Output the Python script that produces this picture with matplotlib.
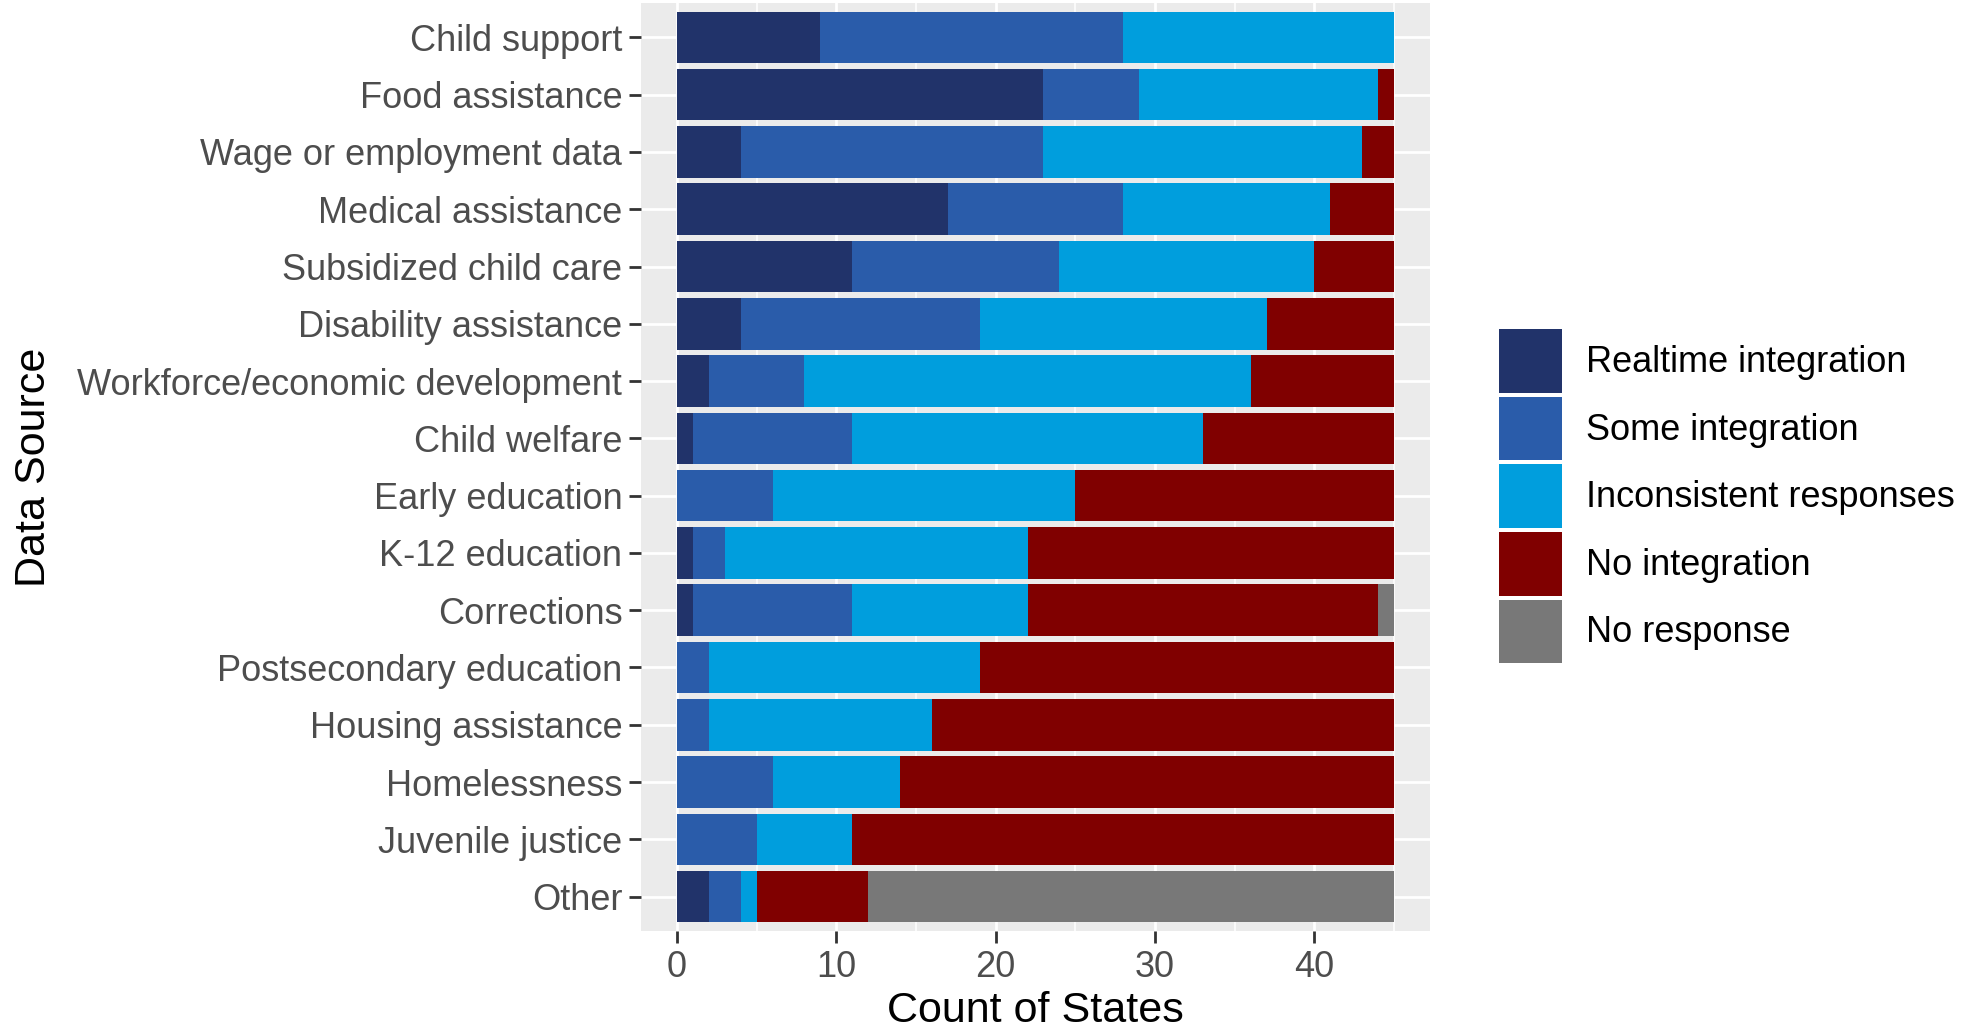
import matplotlib
matplotlib.use("Agg")
import matplotlib.pyplot as plt
import numpy as np
from matplotlib.patches import Patch

plt.rcParams["font.family"] = ["Liberation Sans", "DejaVu Sans"]

# data, top row first
sources = ["Child support", "Food assistance", "Wage or employment data",
           "Medical assistance", "Subsidized child care", "Disability assistance",
           "Workforce/economic development", "Child welfare", "Early education",
           "K-12 education", "Corrections", "Postsecondary education",
           "Housing assistance", "Homelessness", "Juvenile justice", "Other"]

realtime = [9, 23, 4, 17, 11, 4, 2, 1, 0, 1, 1, 0, 0, 0, 0, 2]
some = [19, 6, 19, 11, 13, 15, 6, 10, 6, 2, 10, 2, 2, 6, 5, 2]
inconsistent = [17, 15, 20, 13, 16, 18, 28, 22, 19, 19, 11, 17, 14, 8, 6, 1]
no_integration = [0, 1, 2, 4, 5, 8, 9, 12, 20, 23, 22, 26, 29, 31, 34, 7]
no_response = [0, 0, 0, 0, 0, 0, 0, 0, 0, 0, 1, 0, 0, 0, 0, 33]

series = [("Realtime integration", realtime, "#21336A"),
          ("Some integration", some, "#2A5CAA"),
          ("Inconsistent responses", inconsistent, "#009EDD"),
          ("No integration", no_integration, "#800000"),
          ("No response", no_response, "#787878")]

W, H = 1967, 1032
fig = plt.figure(figsize=(W / 100, H / 100), dpi=100)
ax = fig.add_axes([641 / W, 1 - 931 / H, (1430 - 641) / W, (931 - 3) / H])
ax.set_facecolor("#EBEBEB")

y = np.arange(len(sources))
left = np.zeros(len(sources))
handles = []
for name, vals, col in series:
    vals = np.array(vals, dtype=float)
    ax.barh(y, vals, left=left, height=0.9, color=col, zorder=3)
    left += vals
    handles.append(Patch(facecolor=col, edgecolor="none", label=name))

total = left.max()
ax.set_xlim(-0.05 * total, total * 1.05)
ax.set_ylim(len(sources) - 1 + 0.6, -0.6)
ax.set_yticks(y)
ax.set_yticklabels(sources)
ax.set_xticks([0, 10, 20, 30, 40])
ax.set_xticks([5, 15, 25, 35, 45], minor=True)

ax.grid(True, which="major", color="white", linewidth=2.0, zorder=1)
ax.grid(True, which="minor", axis="x", color="white", linewidth=1.1, zorder=1)
ax.set_axisbelow(True)
for s in ax.spines.values():
    s.set_visible(False)

ax.tick_params(axis="both", which="major", length=8.5, width=2, color="#333333",
               labelsize=26, labelcolor="#4D4D4D", pad=5)
ax.tick_params(axis="both", which="minor", length=0)

ax.set_xlabel("Count of States", fontsize=31, color="black")
ax.set_ylabel("Data Source", fontsize=31, color="black")
ax.xaxis.set_label_coords(0.5, (931 - 1011) / 928)
ax.xaxis.label.set_va("center")
ax.yaxis.set_label_coords((34 - 641) / 789, 0.5)
ax.yaxis.label.set_va("center")

fig.legend(handles=handles, loc="upper left",
           bbox_to_anchor=(1499 / W, 1 - 329 / H),
           frameon=False, fontsize=26, borderpad=0, borderaxespad=0,
           handlelength=1.735, handleheight=2.335, labelspacing=0.11,
           handletextpad=0.67)

fig.savefig("out.png", dpi=100)
